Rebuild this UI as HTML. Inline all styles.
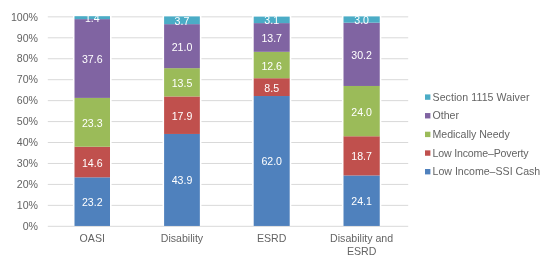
<!DOCTYPE html>
<html><head><meta charset="utf-8"><style>
html,body{margin:0;padding:0;width:552px;height:268px;overflow:hidden;background:#fff}
svg text{font-family:"Liberation Sans",sans-serif}
svg{will-change:transform}
</style></head><body>
<svg width="552" height="268" viewBox="0 0 552 268" style="position:absolute;left:0;top:0"><rect x="0" y="0" width="552" height="268" fill="#fff"/><rect x="47.8" y="225.80" width="360.4" height="1" fill="#D9D9D9"/><rect x="47.80" y="204.86" width="25.10" height="1" fill="#D9D9D9"/><rect x="111.60" y="204.86" width="50.90" height="1" fill="#D9D9D9"/><rect x="201.45" y="204.86" width="50.65" height="1" fill="#D9D9D9"/><rect x="291.30" y="204.86" width="50.60" height="1" fill="#D9D9D9"/><rect x="381.35" y="204.86" width="26.85" height="1" fill="#D9D9D9"/><rect x="47.80" y="183.91" width="25.10" height="1" fill="#D9D9D9"/><rect x="111.60" y="183.91" width="50.90" height="1" fill="#D9D9D9"/><rect x="201.45" y="183.91" width="50.65" height="1" fill="#D9D9D9"/><rect x="291.30" y="183.91" width="50.60" height="1" fill="#D9D9D9"/><rect x="381.35" y="183.91" width="26.85" height="1" fill="#D9D9D9"/><rect x="47.80" y="162.97" width="25.10" height="1" fill="#D9D9D9"/><rect x="111.60" y="162.97" width="50.90" height="1" fill="#D9D9D9"/><rect x="201.45" y="162.97" width="50.65" height="1" fill="#D9D9D9"/><rect x="291.30" y="162.97" width="50.60" height="1" fill="#D9D9D9"/><rect x="381.35" y="162.97" width="26.85" height="1" fill="#D9D9D9"/><rect x="47.80" y="142.02" width="25.10" height="1" fill="#D9D9D9"/><rect x="111.60" y="142.02" width="50.90" height="1" fill="#D9D9D9"/><rect x="201.45" y="142.02" width="50.65" height="1" fill="#D9D9D9"/><rect x="291.30" y="142.02" width="50.60" height="1" fill="#D9D9D9"/><rect x="381.35" y="142.02" width="26.85" height="1" fill="#D9D9D9"/><rect x="47.80" y="121.08" width="25.10" height="1" fill="#D9D9D9"/><rect x="111.60" y="121.08" width="50.90" height="1" fill="#D9D9D9"/><rect x="201.45" y="121.08" width="50.65" height="1" fill="#D9D9D9"/><rect x="291.30" y="121.08" width="50.60" height="1" fill="#D9D9D9"/><rect x="381.35" y="121.08" width="26.85" height="1" fill="#D9D9D9"/><rect x="47.80" y="100.13" width="25.10" height="1" fill="#D9D9D9"/><rect x="111.60" y="100.13" width="50.90" height="1" fill="#D9D9D9"/><rect x="201.45" y="100.13" width="50.65" height="1" fill="#D9D9D9"/><rect x="291.30" y="100.13" width="50.60" height="1" fill="#D9D9D9"/><rect x="381.35" y="100.13" width="26.85" height="1" fill="#D9D9D9"/><rect x="47.80" y="79.19" width="25.10" height="1" fill="#D9D9D9"/><rect x="111.60" y="79.19" width="50.90" height="1" fill="#D9D9D9"/><rect x="201.45" y="79.19" width="50.65" height="1" fill="#D9D9D9"/><rect x="291.30" y="79.19" width="50.60" height="1" fill="#D9D9D9"/><rect x="381.35" y="79.19" width="26.85" height="1" fill="#D9D9D9"/><rect x="47.80" y="58.24" width="25.10" height="1" fill="#D9D9D9"/><rect x="111.60" y="58.24" width="50.90" height="1" fill="#D9D9D9"/><rect x="201.45" y="58.24" width="50.65" height="1" fill="#D9D9D9"/><rect x="291.30" y="58.24" width="50.60" height="1" fill="#D9D9D9"/><rect x="381.35" y="58.24" width="26.85" height="1" fill="#D9D9D9"/><rect x="47.80" y="37.30" width="25.10" height="1" fill="#D9D9D9"/><rect x="111.60" y="37.30" width="50.90" height="1" fill="#D9D9D9"/><rect x="201.45" y="37.30" width="50.65" height="1" fill="#D9D9D9"/><rect x="291.30" y="37.30" width="50.60" height="1" fill="#D9D9D9"/><rect x="381.35" y="37.30" width="26.85" height="1" fill="#D9D9D9"/><rect x="47.80" y="16.35" width="25.10" height="1" fill="#D9D9D9"/><rect x="111.60" y="16.35" width="50.90" height="1" fill="#D9D9D9"/><rect x="201.45" y="16.35" width="50.65" height="1" fill="#D9D9D9"/><rect x="291.30" y="16.35" width="50.60" height="1" fill="#D9D9D9"/><rect x="381.35" y="16.35" width="26.85" height="1" fill="#D9D9D9"/><text x="38" y="230.00" text-anchor="end" font-size="10.6" fill="#646464">0%</text><text x="38" y="209.06" text-anchor="end" font-size="10.6" fill="#646464">10%</text><text x="38" y="188.11" text-anchor="end" font-size="10.6" fill="#646464">20%</text><text x="38" y="167.16" text-anchor="end" font-size="10.6" fill="#646464">30%</text><text x="38" y="146.22" text-anchor="end" font-size="10.6" fill="#646464">40%</text><text x="38" y="125.28" text-anchor="end" font-size="10.6" fill="#646464">50%</text><text x="38" y="104.33" text-anchor="end" font-size="10.6" fill="#646464">60%</text><text x="38" y="83.39" text-anchor="end" font-size="10.6" fill="#646464">70%</text><text x="38" y="62.44" text-anchor="end" font-size="10.6" fill="#646464">80%</text><text x="38" y="41.50" text-anchor="end" font-size="10.6" fill="#646464">90%</text><text x="38" y="20.55" text-anchor="end" font-size="10.6" fill="#646464">100%</text><rect x="74.50" y="177.33" width="35.50" height="48.62" fill="#4F81BD"/><rect x="74.50" y="146.74" width="35.50" height="30.59" fill="#C0504D"/><rect x="74.50" y="97.91" width="35.50" height="48.83" fill="#9BBB59"/><rect x="74.50" y="19.12" width="35.50" height="78.79" fill="#8064A2"/><rect x="74.50" y="16.19" width="35.50" height="2.93" fill="#4BACC6"/><text x="92.25" y="206.10" text-anchor="middle" font-size="10.6" fill="#fff">23.2</text><text x="92.25" y="166.52" text-anchor="middle" font-size="10.6" fill="#fff">14.6</text><text x="92.25" y="126.83" text-anchor="middle" font-size="10.6" fill="#fff">23.3</text><text x="92.25" y="63.05" text-anchor="middle" font-size="10.6" fill="#fff">37.6</text><text x="92.25" y="22.21" text-anchor="middle" font-size="10.6" fill="#fff">1.4</text><text x="92.25" y="242.30" text-anchor="middle" font-size="10.6" fill="#646464">OASI</text><rect x="164.10" y="133.96" width="35.75" height="91.99" fill="#4F81BD"/><rect x="164.10" y="96.45" width="35.75" height="37.51" fill="#C0504D"/><rect x="164.10" y="68.16" width="35.75" height="28.29" fill="#9BBB59"/><rect x="164.10" y="24.15" width="35.75" height="44.01" fill="#8064A2"/><rect x="164.10" y="16.40" width="35.75" height="7.75" fill="#4BACC6"/><text x="181.97" y="184.43" text-anchor="middle" font-size="10.6" fill="#fff">43.9</text><text x="181.97" y="119.71" text-anchor="middle" font-size="10.6" fill="#fff">17.9</text><text x="181.97" y="86.82" text-anchor="middle" font-size="10.6" fill="#fff">13.5</text><text x="181.97" y="50.69" text-anchor="middle" font-size="10.6" fill="#fff">21.0</text><text x="181.97" y="24.82" text-anchor="middle" font-size="10.6" fill="#fff">3.7</text><text x="181.97" y="242.30" text-anchor="middle" font-size="10.6" fill="#646464">Disability</text><rect x="253.70" y="96.03" width="36.00" height="129.92" fill="#4F81BD"/><rect x="253.70" y="78.22" width="36.00" height="17.81" fill="#C0504D"/><rect x="253.70" y="51.81" width="36.00" height="26.40" fill="#9BBB59"/><rect x="253.70" y="23.11" width="36.00" height="28.71" fill="#8064A2"/><rect x="253.70" y="16.61" width="36.00" height="6.50" fill="#4BACC6"/><text x="271.70" y="165.47" text-anchor="middle" font-size="10.6" fill="#fff">62.0</text><text x="271.70" y="91.64" text-anchor="middle" font-size="10.6" fill="#fff">8.5</text><text x="271.70" y="69.54" text-anchor="middle" font-size="10.6" fill="#fff">12.6</text><text x="271.70" y="42.00" text-anchor="middle" font-size="10.6" fill="#fff">13.7</text><text x="271.70" y="24.41" text-anchor="middle" font-size="10.6" fill="#fff">3.1</text><text x="271.70" y="242.30" text-anchor="middle" font-size="10.6" fill="#646464">ESRD</text><rect x="343.50" y="175.45" width="36.25" height="50.50" fill="#4F81BD"/><rect x="343.50" y="136.26" width="36.25" height="39.19" fill="#C0504D"/><rect x="343.50" y="85.97" width="36.25" height="50.29" fill="#9BBB59"/><rect x="343.50" y="22.69" width="36.25" height="63.28" fill="#8064A2"/><rect x="343.50" y="16.40" width="36.25" height="6.29" fill="#4BACC6"/><text x="361.62" y="205.16" text-anchor="middle" font-size="10.6" fill="#fff">24.1</text><text x="361.62" y="160.34" text-anchor="middle" font-size="10.6" fill="#fff">18.7</text><text x="361.62" y="115.62" text-anchor="middle" font-size="10.6" fill="#fff">24.0</text><text x="361.62" y="58.86" text-anchor="middle" font-size="10.6" fill="#fff">30.2</text><text x="361.62" y="24.09" text-anchor="middle" font-size="10.6" fill="#fff">3.0</text><text x="361.62" y="242.30" text-anchor="middle" font-size="10.6" fill="#646464">Disability and</text><text x="361.62" y="255.10" text-anchor="middle" font-size="10.6" fill="#646464">ESRD</text><rect x="425" y="94.40" width="5.4" height="5.4" fill="#4BACC6"/><text x="432.5" y="100.60" font-size="10.6" fill="#646464" textLength="96.96" lengthAdjust="spacing">Section 1115 Waiver</text><rect x="425" y="113.05" width="5.4" height="5.4" fill="#8064A2"/><text x="432.5" y="119.25" font-size="10.6" fill="#646464">Other</text><rect x="425" y="131.70" width="5.4" height="5.4" fill="#9BBB59"/><text x="432.5" y="137.90" font-size="10.6" fill="#646464" textLength="77.20" lengthAdjust="spacing">Medically Needy</text><rect x="425" y="150.35" width="5.4" height="5.4" fill="#C0504D"/><text x="432.5" y="156.55" font-size="10.6" fill="#646464" textLength="96.08" lengthAdjust="spacing">Low Income–Poverty</text><rect x="425" y="169.00" width="5.4" height="5.4" fill="#4F81BD"/><text x="432.5" y="175.20" font-size="10.6" fill="#646464">Low Income–SSI Cash</text></svg>
</body></html>
